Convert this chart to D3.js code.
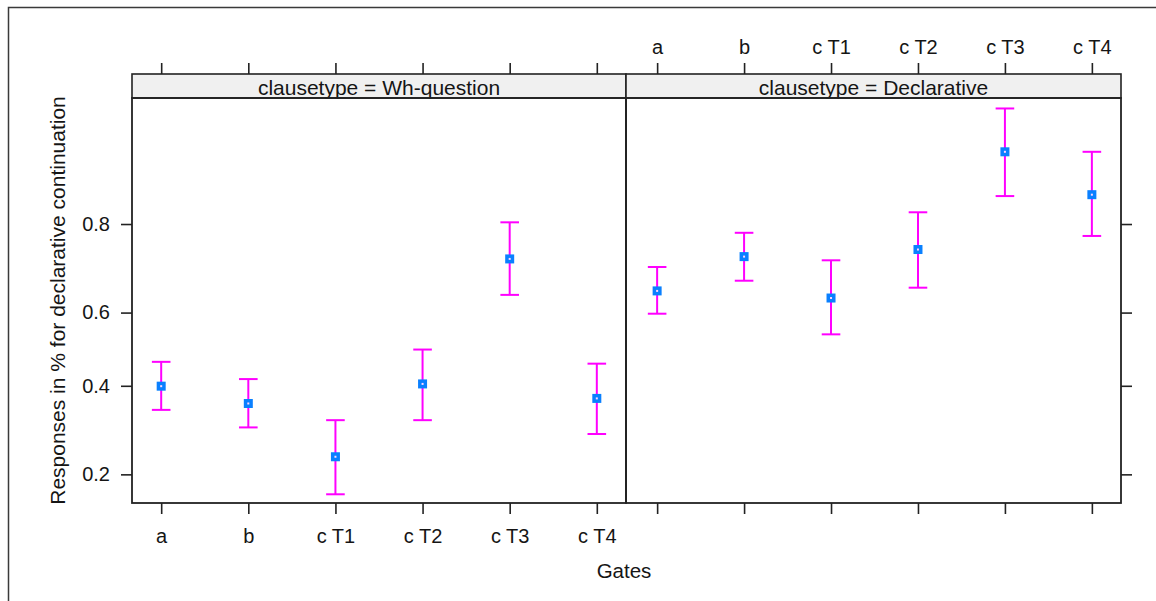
<!DOCTYPE html>
<html>
<head>
<meta charset="utf-8">
<script src="https://cdn.jsdelivr.net/npm/d3@7"></script>
<style>
  html, body { margin: 0; padding: 0; background: #ffffff; }
  svg { display: block; }
  text { font-family: "Liberation Sans", Arial, sans-serif; fill: #151515; }
</style>
</head>
<body>
<svg id="chart" width="1156" height="601"></svg>
<script>
// Gate categories (x axis)
const gates = ["a", "b", "c T1", "c T2", "c T3", "c T4"];

// Panels (conditioning variable)
const clausetypes = ["Wh-question", "Declarative"];

// Estimated proportions with lower / upper confidence limits, per panel
const whFit   = [0.399, 0.354, 0.233, 0.405, 0.731, 0.367];
const whLower = [0.338, 0.296, 0.167, 0.313, 0.646, 0.281];
const whUpper = [0.465, 0.418, 0.313, 0.499, 0.803, 0.460];

const declFit   = [0.656, 0.736, 0.638, 0.751, 0.899, 0.847];
const declLower = [0.597, 0.681, 0.541, 0.664, 0.845, 0.778];
const declUpper = [0.713, 0.784, 0.728, 0.820, 0.935, 0.899];

// Y axis (logit-scaled probability)
const yTicks = [0.2, 0.4, 0.6, 0.8];
const yLimits = [0.154, 0.9417];

const xTitle = "Gates";
const yTitle = "Responses in % for declarative continuation";

const panelData = [
  { type: clausetypes[0], fit: whFit, lower: whLower, upper: whUpper },
  { type: clausetypes[1], fit: declFit, lower: declLower, upper: declUpper }
];

// ---- layout ----
const panelTop = 98, panelBottom = 503, stripTop = 74;
const panelX = [[132, 626], [626, 1121]];
const pointRange = [[132, 626], [628, 1121]];
const tickLen = 11;
const fontSize = 20;
const ink = "#222";

const logit = p => Math.log(p / (1 - p));
const invLogit = v => 1 / (1 + Math.exp(-v));

const yLin = d3.scaleLinear()
  .domain(yLimits.map(logit))
  .range([panelBottom, panelTop]);
const y = p => yLin(logit(p));

const svg = d3.select("#chart");

// outer frame
svg.append("path")
  .attr("d", "M8.5,601V7.5H1156")
  .attr("fill", "none")
  .attr("stroke", "#3a3a3a")
  .attr("stroke-width", 1.5);

panelData.forEach((pd, i) => {
  const [x0, x1] = panelX[i];
  const x = d3.scalePoint().domain(gates).range(pointRange[i]).padding(0.335);

  // strip
  svg.append("rect")
    .attr("x", x0).attr("y", stripTop)
    .attr("width", x1 - x0).attr("height", panelTop - stripTop)
    .attr("fill", "#f0f0f0")
    .attr("stroke", ink).attr("stroke-width", 1.6);
  svg.append("text")
    .attr("x", (x0 + x1) / 2).attr("y", 95)
    .attr("text-anchor", "middle")
    .style("font-size", "21px")
    .text("clausetype = " + pd.type);

  // top axis (labels only on the right panel)
  const topAxis = d3.axisTop(x).tickSize(tickLen).tickPadding(9);
  if (i === 0) topAxis.tickFormat(() => "");
  const gt = svg.append("g").attr("transform", `translate(0,${stripTop})`).call(topAxis);

  // bottom axis (labels only on the left panel)
  const botAxis = d3.axisBottom(x).tickSize(tickLen).tickPadding(15);
  if (i === 1) botAxis.tickFormat(() => "");
  const gb = svg.append("g").attr("transform", `translate(0,${panelBottom})`).call(botAxis);

  [gt, gb].forEach(g => {
    g.select(".domain").remove();
    g.selectAll("line").attr("stroke", ink).attr("stroke-width", 1.6);
    g.selectAll("text").attr("fill", "#151515")
      .style("font-size", fontSize + "px")
      .style("font-family", "'Liberation Sans', Arial, sans-serif");
  });

  // y axis: labels on the left of panel 1, plain ticks on the right of panel 2
  const yAxis = (i === 0 ? d3.axisLeft(yLin) : d3.axisRight(yLin))
    .tickValues(yTicks.map(logit))
    .tickSize(tickLen)
    .tickPadding(11)
    .tickFormat(v => i === 0 ? d3.format(".1f")(invLogit(v)) : "");
  const gy = svg.append("g")
    .attr("transform", `translate(${i === 0 ? x0 : x1},0)`)
    .call(yAxis);
  gy.select(".domain").remove();
  gy.selectAll("line").attr("stroke", ink).attr("stroke-width", 1.6);
  gy.selectAll("text").attr("fill", "#151515")
    .style("font-size", fontSize + "px")
    .style("font-family", "'Liberation Sans', Arial, sans-serif");

  // panel box
  svg.append("rect")
    .attr("x", x0).attr("y", panelTop)
    .attr("width", x1 - x0).attr("height", panelBottom - panelTop)
    .attr("fill", "none")
    .attr("stroke", ink).attr("stroke-width", 1.8);

  // error bars
  const bars = svg.append("g")
    .attr("stroke", "#ff00ff")
    .attr("stroke-width", 2)
    .attr("fill", "none");
  gates.forEach((g, k) => {
    const cx = x(g);
    const cap = 9.3;
    bars.append("line")
      .attr("x1", cx).attr("x2", cx)
      .attr("y1", y(pd.upper[k])).attr("y2", y(pd.lower[k]));
    bars.append("line")
      .attr("x1", cx - cap).attr("x2", cx + cap)
      .attr("y1", y(pd.upper[k])).attr("y2", y(pd.upper[k]));
    bars.append("line")
      .attr("x1", cx - cap).attr("x2", cx + cap)
      .attr("y1", y(pd.lower[k])).attr("y2", y(pd.lower[k]));
  });

  // point estimates
  const pts = svg.append("g");
  gates.forEach((g, k) => {
    const cx = x(g), cy = y(pd.fit[k]);
    pts.append("rect")
      .attr("x", cx - 4.5).attr("y", cy - 4.5)
      .attr("width", 9).attr("height", 9)
      .attr("fill", "#0a80ff");
    pts.append("rect")
      .attr("x", cx - 1).attr("y", cy - 1)
      .attr("width", 2).attr("height", 2)
      .attr("fill", "#ffd6ff");
  });
});

// axis titles
svg.append("text")
  .attr("x", 624).attr("y", 578)
  .attr("text-anchor", "middle")
  .style("font-size", "20.5px")
  .text(xTitle);

svg.append("text")
  .attr("transform", `translate(65,${(panelTop + panelBottom) / 2}) rotate(-90)`)
  .attr("text-anchor", "middle")
  .style("font-size", "21px")
  .text(yTitle);
</script>
</body>
</html>
